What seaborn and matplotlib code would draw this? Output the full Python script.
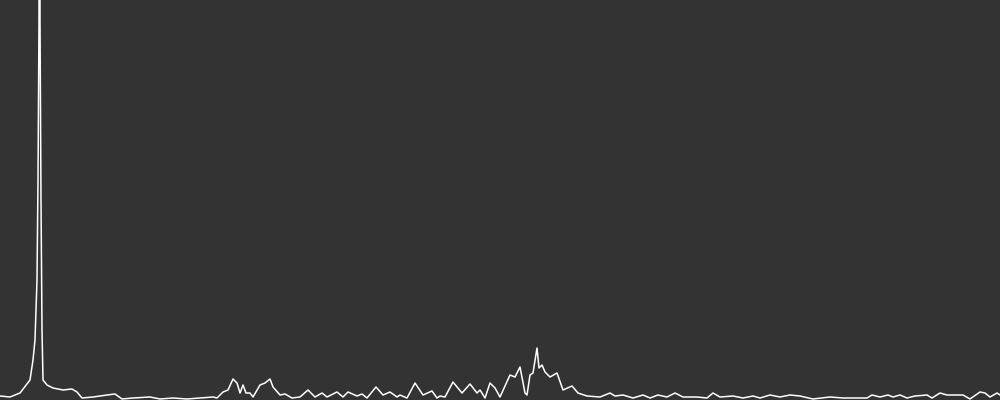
import numpy as np
import pandas as pd
import matplotlib
matplotlib.use('Agg')
import matplotlib.pyplot as plt
import seaborn as sns

# spectrum: bin position and magnitude (px above bottom)
bins = [0, 10, 20, 30, 33, 35, 37, 38, 39, 39.5, 40, 41, 42, 43, 47, 53, 63, 72, 77, 82,
        93, 107, 115, 122, 133, 150, 160, 173, 187,
        200, 213, 217, 223, 228, 233, 237, 240, 243, 246, 250, 253, 260, 265, 270,
        273, 280, 285, 292, 300, 308, 315, 322, 327, 337, 343, 348, 357, 362, 367,
        376, 383, 390, 397,
        400, 407, 415, 423, 432, 437, 440, 445, 453, 462, 470, 477, 480, 485, 490,
        495, 500, 510, 515, 520, 525, 527, 530, 533, 537, 539, 542, 545, 550, 557,
        563, 572, 578, 587,
        600, 610, 615, 623, 633, 643, 650, 658, 667, 675, 683, 697, 707, 713, 720,
        733, 743, 753, 760, 770, 780, 790,
        800, 813, 830, 843, 867, 872, 880, 888, 893, 900, 907, 915, 927, 932, 940,
        947, 963, 970, 980, 985, 990, 997, 1000]
magnitude = [4, 3, 7, 20, 40, 60, 120, 220, 380, 3000, 380, 200, 70, 20, 15, 12, 10, 11, 8, 2,
             3, 5, 6, 1, 2, 3, 1, 2, 1,
             2, 3, 2, 8, 10, 21, 17, 7, 15, 7, 7, 3, 15, 17, 21,
             13, 5, 6, 2, 3, 10, 3, 7, 3, 8, 3, 8, 4, 6, 2,
             13, 5, 8, 3,
             5, 2, 17, 5, 9, 2, 4, 3, 18, 7, 16, 7, 10, 2, 17,
             12, 3, 25, 23, 33, 7, 5, 25, 27, 52, 32, 35, 28, 23, 27,
             10, 14, 7, 4,
             3, 7, 4, 5, 2, 5, 2, 5, 3, 7, 3, 3, 2, 7, 3,
             4, 2, 4, 2, 5, 3, 5,
             4, 1, 3, 2, 2, 5, 3, 5, 3, 5, 2, 4, 5, 2, 7,
             5, 5, 1, 8, 7, 3, 7, 5]

df = pd.DataFrame({'bin': bins, 'magnitude': magnitude})

bg = '#333333'
fig = plt.figure(figsize=(10, 4), dpi=100, facecolor=bg)
ax = fig.add_axes([0, 0, 1, 1])
ax.set_facecolor(bg)

sns.lineplot(data=df, x='bin', y='magnitude', ax=ax, color='white', linewidth=1.1)

ax.set_xlim(0, 1000)
ax.set_ylim(0, 400)
ax.axis('off')

plt.savefig('out.png', dpi=100, facecolor=bg)
